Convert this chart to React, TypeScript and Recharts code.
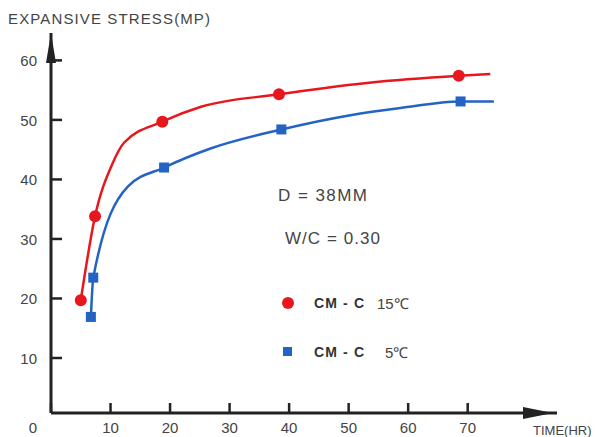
import React from 'react'
import { LineChart, Line, XAxis, YAxis, ReferenceDot } from 'recharts'

// values (time in hours, stress in MPa)
const redTime = [5.0, 7.4, 10.3, 12.3, 18.7, 25.2, 38.3, 53.1, 68.5, 73.8]
const redStress = [19.7, 33.8, 42.6, 46.2, 49.7, 52.2, 54.3, 56.2, 57.4, 57.7]
const redMeasured = [true, true, false, false, true, false, true, false, true, false]

const blueTime = [6.7, 7.1, 12.9, 19.0, 26.8, 38.7, 50.3, 58.7, 68.8, 74.4]
const blueStress = [16.9, 23.5, 38.8, 42.0, 45.2, 48.4, 50.8, 52.0, 53.1, 53.1]
const blueMeasured = [true, true, false, true, false, true, false, false, true, false]

const xTicks = [0, 10, 20, 30, 40, 50, 60, 70]
const yTicks = [10, 20, 30, 40, 50, 60]

const RED = '#e8161d'
const BLUE = '#2263c4'
const AXIS = '#222'
const TEXT = '#444'
const FONT = 'Liberation Sans, Arial, sans-serif'

const Y_MIN = 0.76
const Y_MAX = 64.6
const X_MAX = 85

const redData = redTime.map((t, i) => ({ x: t, y: redStress[i], m: redMeasured[i] }))
const blueData = blueTime.map((t, i) => ({ x: t, y: blueStress[i], m: blueMeasured[i] }))

const XTick = (props: any) => {
  const { x, y, payload } = props
  return (
    <text x={payload.value === 0 ? x - 18 : x} y={y + 20} textAnchor="middle" fontSize={15} fill={TEXT} fontFamily={FONT}>
      {payload.value}
    </text>
  )
}

const YTick = (props: any) => {
  const { x, y, payload } = props
  return (
    <text x={x - 14} y={y + 6} textAnchor="end" fontSize={15} fill={TEXT} fontFamily={FONT}>
      {payload.value}
    </text>
  )
}

const redDot = (props: any) => {
  const { cx, cy, payload, index } = props
  if (!payload.m) return <g key={`r${index}`} />
  return <circle key={`r${index}`} cx={cx} cy={cy} r={6} fill={RED} />
}

const blueDot = (props: any) => {
  const { cx, cy, payload, index } = props
  if (!payload.m) return <g key={`b${index}`} />
  return <rect key={`b${index}`} x={cx - 5} y={cy - 5} width={10} height={10} fill={BLUE} />
}

const XArrow = (props: any) => {
  const { cx, cy } = props
  return <polygon points={`${cx - 4},${cy} ${cx - 34},${cy - 6} ${cx - 34},${cy + 6}`} fill={AXIS} />
}

const YArrow = (props: any) => {
  const { cx, cy } = props
  return <polygon points={`${cx},${cy} ${cx - 5},${cy + 30} ${cx + 5},${cy + 30}`} fill={AXIS} />
}

export default function App() {
  return (
    <div style={{ position: 'absolute', left: 0, top: 0, width: 603, height: 437, background: '#fff' }}>
      <LineChart width={603} height={437} margin={{ top: 33, right: 46, left: 21, bottom: 4 }}>
        {/* negative tick size turns the tick marks inward; the margin brings the label anchor back to the axis */}
        <XAxis
          type="number"
          dataKey="x"
          domain={[0, X_MAX]}
          ticks={xTicks}
          allowDataOverflow
          height={20}
          tickSize={-10}
          tickMargin={10}
          tickLine={{ stroke: AXIS, strokeWidth: 2.5 }}
          axisLine={{ stroke: AXIS, strokeWidth: 3 }}
          tick={XTick}
        />
        <YAxis
          type="number"
          dataKey="y"
          domain={[Y_MIN, Y_MAX]}
          ticks={yTicks}
          allowDataOverflow
          width={30}
          tickSize={-11}
          tickMargin={11}
          tickLine={{ stroke: AXIS, strokeWidth: 2.5 }}
          axisLine={{ stroke: AXIS, strokeWidth: 3 }}
          tick={YTick}
        />
        <Line
          data={redData}
          dataKey="y"
          type="monotone"
          stroke={RED}
          strokeWidth={2.5}
          dot={redDot}
          activeDot={false}
          isAnimationActive={false}
        />
        <Line
          data={blueData}
          dataKey="y"
          type="monotone"
          stroke={BLUE}
          strokeWidth={2.5}
          dot={blueDot}
          activeDot={false}
          isAnimationActive={false}
        />
        <ReferenceDot x={X_MAX} y={Y_MIN} ifOverflow="visible" shape={<XArrow />} />
        <ReferenceDot x={0} y={Y_MAX} ifOverflow="visible" shape={<YArrow />} />
      </LineChart>
      <svg width={603} height={437} style={{ position: 'absolute', left: 0, top: 0, pointerEvents: 'none' }}>
        <text x={8} y={24} fontSize={15} fill={TEXT} fontFamily={FONT} textLength={202}>
          EXPANSIVE STRESS(MP)
        </text>
        <text x={533} y={435} fontSize={13} fill={TEXT} fontFamily={FONT}>
          TIME(HR)
        </text>
        <text x={278} y={201} fontSize={17} fill={TEXT} fontFamily={FONT} textLength={89}>
          D = 38MM
        </text>
        <text x={285} y={244} fontSize={17} fill={TEXT} fontFamily={FONT} textLength={95}>
          W/C = 0.30
        </text>
        <circle cx={288} cy={303} r={6} fill={RED} />
        <text x={314} y={308} fontSize={14} fontWeight="bold" fill="#333" fontFamily={FONT} textLength={50}>
          CM - C
        </text>
        <text x={377} y={309} fontSize={15} fill={TEXT} fontFamily={FONT}>
          15℃
        </text>
        <rect x={283} y={347} width={9} height={9} fill={BLUE} />
        <text x={314} y={357} fontSize={14} fontWeight="bold" fill="#333" fontFamily={FONT} textLength={50}>
          CM - C
        </text>
        <text x={385} y={358} fontSize={15} fill={TEXT} fontFamily={FONT}>
          5℃
        </text>
      </svg>
    </div>
  )
}
